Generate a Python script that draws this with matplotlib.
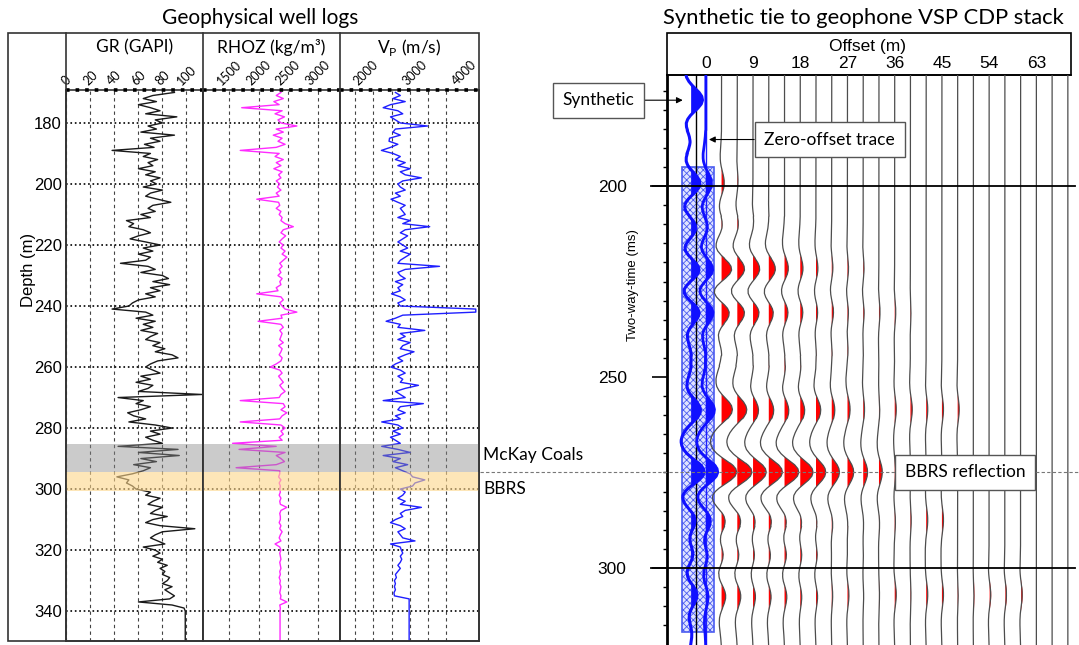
import numpy as np
import matplotlib
matplotlib.use('Agg')
import matplotlib.pyplot as plt
from matplotlib.patches import Rectangle
from matplotlib.lines import Line2D
from matplotlib.transforms import blended_transform_factory

plt.rcParams['font.family'] = ['Liberation Sans', 'DejaVu Sans']
plt.rcParams['mathtext.fontset'] = 'custom'
plt.rcParams['mathtext.rm'] = 'Lato'
plt.rcParams['hatch.linewidth'] = 0.6

W, H = 1079, 645
LABEL_FONT = 'Lato'

# ===== WELL LOGS (1 m samples, 170-350 m) =====
depth = np.arange(170, 351)

gr = [90, 72, 64, 75, 60, 70, 78, 66, 92, 74,
      80, 68, 75, 62, 90, 70, 78, 65, 73, 38,
      70, 64, 76, 68, 72, 60, 74, 66, 78, 70,
      75, 64, 80, 70, 66, 76, 87, 72, 68, 74,
      62, 70, 50, 56, 52, 64, 70, 60, 53, 66,
      78, 64, 72, 60, 70, 66, 45, 68, 74, 62,
      80, 85, 72, 86, 70, 78, 66, 74, 60, 55,
      52, 38, 66, 72, 58, 74, 64, 72, 62, 76,
      70, 66, 78, 72, 82, 74, 88, 93, 76, 70,
      66, 72, 78, 62, 70, 58, 72, 68, 60, 113,
      43, 64, 58, 70, 62, 51, 56, 66, 52, 74,
      88, 70, 78, 66, 72, 80, 43, 93, 60, 94,
      62, 75, 56, 70, 64, 55, 42, 52, 50, 55,
      58, 70, 66, 78, 72, 68, 80, 74, 70, 84,
      72, 66, 78, 107, 80, 74, 70, 76, 82, 64,
      74, 78, 72, 80, 76, 84, 78, 82, 80, 86,
      84, 80, 88, 82, 86, 90, 86, 60, 88, 98,
      99, 99, 99, 99, 99, 99, 99, 99, 99, 99, 99]

rhoz = [2380, 2300, 2420, 2260, 2350, 1715, 2400, 2280, 2440, 2330,
        2380, 2650, 2300, 2420, 2250, 2400, 2330, 2450, 2300, 1690,
        2350, 2280, 2420, 2300, 2380, 2260, 2400, 2340, 2380, 2300,
        2360, 2320, 2380, 2300, 2350, 1970, 2340, 2360, 2300, 2380,
        2350, 2400, 2380, 2450, 2590, 2420, 2380, 2460, 2400, 2350,
        2420, 2380, 2450, 2400, 2480, 2420, 2360, 2400, 2350, 2380,
        2330, 2400, 2360, 2380, 2300, 2330, 1970, 2380, 2420, 2360,
        2400, 2450, 2650, 2380, 2400, 1993, 2380, 2420, 2360, 2400,
        2380, 2360, 2420, 2340, 2400, 2380, 2350, 2400, 2380, 2300,
        2200, 2360, 2400, 2340, 2380, 2420, 2360, 2400, 2450, 2380,
        2350, 1690, 2420, 2450, 2380, 2480, 2400, 2360, 1690, 2380,
        2450, 2380, 2420, 2350, 2400, 1560, 2300, 1670, 2450, 2300,
        2380, 2440, 2300, 1620, 2360, 2360, 2340, 2380, 2350, 2370,
        2360, 2370, 2350, 2380, 2360, 2370, 2480, 2380, 2360, 2370,
        2370, 2350, 2380, 2360, 2400, 2370, 2350, 2380, 2280, 2360,
        2380, 2360, 2370, 2380, 2360, 2370, 2380, 2360, 2370, 2350,
        2370, 2360, 2380, 2370, 2360, 2380, 2370, 2480, 2360, 2370,
        2365, 2365, 2365, 2365, 2365, 2365, 2365, 2365, 2365, 2365, 2365]

vp = [2600, 2700, 2550, 2800, 2500, 2350, 2650, 2750, 2500, 2600,
      2700, 3255, 2600, 2550, 2700, 2480, 2470, 2650, 2500, 2314,
      2550, 2700, 2600, 2800, 2650, 2900, 2700, 2800, 3130, 2750,
      2650, 2700, 2800, 2600, 2700, 2510, 2650, 2800, 2700, 2750,
      2800, 2650, 2900, 2750, 3300, 2800, 2700, 2850, 2750, 2650,
      2750, 2850, 2700, 2900, 2800, 2700, 2650, 3500, 2800, 2650,
      2700, 2800, 2600, 2750, 2650, 2700, 2520, 2700, 2800, 2650,
      2700, 4240, 4240, 2750, 2600, 2410, 2700, 2650, 3200, 2700,
      2800, 2650, 2900, 2750, 2700, 2980, 2800, 2650, 2750, 2600,
      2510, 2700, 2800, 2650, 2750, 2700, 3070, 2800, 2600, 2700,
      2800, 2350, 3170, 2700, 2650, 2800, 2600, 2700, 2320, 2650,
      2750, 2550, 2700, 2500, 2600, 2700, 2320, 2650, 2900, 2350,
      2700, 2550, 2850, 2600, 2750, 2900, 2950, 3200, 3000, 2950,
      2700, 2800, 2750, 2650, 2800, 2700, 3130, 2800, 2700, 2750,
      2600, 2500, 2700, 2800, 2650, 2700, 2750, 3000, 2500, 2700,
      2720, 2750, 2700, 2730, 2700, 2650, 2700, 2650, 2600, 2620,
      2580, 2600, 2580, 2600, 2570, 2580, 2880, 2880, 2880, 2880,
      2880, 2880, 2880, 2880, 2880, 2880, 2880, 2880, 2880, 2880, 2880]

depth_ticks = [180, 200, 220, 240, 260, 280, 300, 320, 340]
gr_ticks = [0, 20, 40, 60, 80, 100]
rhoz_ticks = [1500, 2000, 2500, 3000]
vp_ticks = [2000, 3000, 4000]
vp_grid = [1776, 2143, 2531, 2898, 3265, 3633, 4000]

coal_zone = (285.3, 294.5)
bbrs_zone = (294.5, 300.7)

# ===== VSP CDP STACK =====
stack_offsets = np.arange(3, 70, 3)
stack_ms = [199.5, 211, 222, 233, 242, 249, 258.5, 275, 287.5, 296.5, 307]
amp_199 = [0.6, 0.2, 0, 0, 0, 0, 0, 0, 0, 0, 0, 0, 0, 0, 0, 0, 0, 0, 0, 0, 0, 0, 0]
amp_211 = [0.6, 0.5, 0.3, 0.1, 0, 0, 0, 0, 0, 0, 0, 0, 0, 0, 0, 0, 0, 0, 0, 0, 0, 0, 0]
amp_222 = [2.4, 1.8, 1.6, 1.5, 0.9, 0.65, 0.45, 0.3, 0.25, 0.2, 0, 0, 0, 0, 0, 0, 0, 0, 0, 0, 0, 0, 0]
amp_233 = [2.1, 1.9, 1.6, 1.3, 1.0, 0.75, 0.5, 0.5, 0.3, 0.25, 0.2, 0.2, 0.1, 0, 0, 0, 0, 0, 0, 0, 0, 0, 0]
amp_242 = [0.6, 0.6, 0.5, 0.5, 0.5, 0.4, 0.3, 0.3, 0.2, 0.1, 0, 0, 0, 0, 0, 0, 0, 0, 0, 0, 0, 0, 0]
amp_249 = [0.1, 0.3, 0.5, 0.5, 0.6, 0.5, 0.3, 0.2, 0, 0, 0, 0, 0, 0, 0, 0, 0, 0, 0, 0, 0, 0, 0]
amp_258 = [2.1, 1.9, 1.2, 1.1, 1.0, 1.0, 1.0, 0.65, 0.5, 0.25, 0.15, 0.3, 0.35, 0.3, 0.3, 0.3, 0, 0, 0, 0, 0, 0, 0]
amp_275 = [3.0, 2.9, 2.6, 2.7, 2.8, 2.5, 1.9, 1.5, 1.2, 0.85, 0.65, 0.2, 0, 0, 0, 0, 0, 0, 0, 0, 0, 0, 0]
amp_287 = [1.3, 1.2, 0.85, 1.0, 0.85, 0.65, 0.5, 0.3, 0.15, 0.15, 0.15, 0.15, 0.15, 0.3, 0.3, 0, 0, 0, 0, 0, 0, 0, 0]
amp_296 = [1.0, 0.9, 0.7, 0.8, 0.8, 0.6, 0.5, 0.1, 0.1, 0.1, 0, 0, 0, 0, 0, 0, 0, 0, 0, 0, 0, 0, 0]
amp_307 = [1.0, 0.85, 0.6, 0.6, 0.6, 0.4, 0.4, 0.2, 0.3, 0.1, 0.1, 0.3, 0.1, 0.3, 0.3, 0.1, 0.1, 0.3, 0.3, 0.3, 0, 0, 0]

zero_offset_amp = [1.2, 0.8, 1.8, 1.9, 0.6, 0.5, 1.8, 2.4, 1.4, 0.9, 0.6]

synth_ms = [177.5, 188, 199.5, 211, 222, 233, 242, 249, 258.5, 275, 287.5, 296.5, 307, 316]
synth_amp = [2.3, 0.6, 2.0, 1.6, 2.2, 2.2, 0.8, 0.7, 2.0, 2.6, 1.4, 1.2, 1.6, 0.6]

# wavelet sampled every 1 ms
wavelet_ms = np.arange(-14, 15)
wavelet = [-0.03, -0.06, -0.12, -0.18, -0.27, -0.36, -0.43, -0.44, -0.38, -0.21, 0.05, 0.37, 0.69, 0.92, 1.0,
           0.92, 0.69, 0.37, 0.05, -0.21, -0.38, -0.44, -0.43, -0.36, -0.27, -0.18, -0.12, -0.06, -0.03]

offset_labels = [0, 9, 18, 27, 36, 45, 54, 63]
time_ticks = [200, 250, 300]


def fx(px):
    return px / W


def fy(py):
    return 1 - py / H


def wiggle(times, amps, t):
    out = np.zeros_like(t)
    for tk, a in zip(times, amps):
        out += a * np.interp(t - tk, wavelet_ms, wavelet, left=0, right=0)
    return out


fig = plt.figure(figsize=(W / 100, H / 100), dpi=100)

# ================== LEFT: WELL LOGS ==================
fig.text(fx(260), fy(18), 'Geophysical well logs', ha='center', va='center',
         fontsize=15, family=LABEL_FONT)

track_px = [(66, 203), (203, 340), (340, 479)]
tracks = [
    (gr, (-0.4, 113.8), gr_ticks, '#1a1a1a', 'GR (GAPI)'),
    (rhoz, (1059, 3381), rhoz_ticks, '#ff2bff', 'RHOZ (kg/m³)'),
    (vp, (1469, 4306), vp_ticks, '#1f1fff', r'V$_{\mathregular{P}}$ (m/s)'),
]

log_axes = []
for (x0, x1), (vals, xlim, ticks, color, name) in zip(track_px, tracks):
    ax = fig.add_axes([fx(x0), fy(641), (x1 - x0) / W, (641 - 90) / H])
    ax.plot(vals, depth, color=color, lw=1.0, zorder=2)
    ax.set_xlim(*xlim)
    ax.set_ylim(349.8, 169.2)
    ax.xaxis.tick_top()
    ax.set_xticks(ticks)
    ax.set_xticklabels([str(v) for v in ticks], rotation=45, fontsize=9, family=LABEL_FONT)
    ax.tick_params(axis='x', length=0, pad=2)
    ax.set_yticks(depth_ticks)
    ax.tick_params(axis='y', length=0, pad=3, labelsize=12)
    if log_axes:
        ax.set_yticklabels([])
    ax.grid(axis='y', linestyle=':', color='black', lw=1.2)
    ax.axhspan(*coal_zone, color='#8c8c8c', alpha=0.45, lw=0, zorder=3)
    ax.axhspan(*bbrs_zone, color='#fdd68a', alpha=0.6, lw=0, zorder=3)
    ax.axhline(169.2, ls=':', lw=2.6, color='black', clip_on=False, zorder=4)
    for side in ['left', 'right', 'bottom', 'top']:
        ax.spines[side].set_color('#333333')
        ax.spines[side].set_linewidth(1.2)
    fig.text(fx((x0 + x1) / 2), fy(47), name, ha='center', va='center',
             fontsize=12.5, family=LABEL_FONT)
    log_axes.append(ax)

ax_gr, ax_rhoz, ax_vp = log_axes
for ax in (ax_gr, ax_rhoz):
    ax.grid(axis='x', linestyle=(0, (3, 3)), color='#444444', lw=0.8)
ax_vp.set_xticks(vp_grid, minor=True)
ax_vp.tick_params(axis='x', which='minor', length=0)
ax_vp.grid(axis='x', which='minor', linestyle=(0, (3, 3)), color='#444444', lw=0.8)

# frame round the log panel
fig.add_artist(Rectangle((fx(8), fy(641)), (479 - 8) / W, (641 - 33) / H,
                         transform=fig.transFigure, fill=False, ec='#333333', lw=1.2))
for xp in (66, 203, 340):
    fig.add_artist(Line2D([fx(xp), fx(xp)], [fy(33), fy(641)], color='#333333', lw=1.2))

fig.text(fx(28), fy(270), 'Depth (m)', rotation=90, ha='center', va='center', fontsize=12)
fig.text(fx(483), fy(455), 'McKay Coals', ha='left', va='center', fontsize=12.5, family=LABEL_FONT)
fig.text(fx(483), fy(489), 'BBRS', ha='left', va='center', fontsize=12.5, family=LABEL_FONT)

# ================== RIGHT: VSP STACK ==================
fig.text(fx(863), fy(18), 'Synthetic tie to geophone VSP CDP stack', ha='center', va='center',
         fontsize=15.8, family=LABEL_FONT)

ax_s = fig.add_axes([fx(667), fy(645), (1071 - 667) / W, (645 - 75) / H])
ax_s.set_xlim(-7.4, 69.6)
ax_s.set_ylim(320.2, 170.9)
t = np.linspace(170.5, 320.5, 1501)

ax_s.add_patch(Rectangle((-4.6, 195), 6.2, 121.8, facecolor='#dfe3ff', edgecolor='#4b5cf0',
                         hatch='xxxxx', lw=1.2, zorder=1))
ax_s.axvline(-1.9, color='black', lw=1, zorder=2)
ax_s.axvline(0, color='#1f1fff', lw=1, zorder=2)

# offset traces, positive lobes in red
stack_amp = np.array([amp_199, amp_211, amp_222, amp_233, amp_242, amp_249,
                      amp_258, amp_275, amp_287, amp_296, amp_307])
for i, off in enumerate(stack_offsets):
    w = wiggle(stack_ms, stack_amp[:, i], t)
    ax_s.fill_betweenx(t, off, off + w, where=w > 0, color='#ff0000', lw=0, interpolate=True, zorder=3)
    ax_s.plot(off + w, t, color='#4d4d4d', lw=0.9, zorder=4)

# zero-offset trace and synthetic in blue
w0 = wiggle(stack_ms, zero_offset_amp, t)
ax_s.fill_betweenx(t, 0, w0, where=w0 > 0, color='#1010ff', lw=0, interpolate=True, zorder=5)
ax_s.plot(w0, t, color='#1010ff', lw=2, zorder=5)

syn_base = -2.8
ws = wiggle(synth_ms, synth_amp, t)
ax_s.fill_betweenx(t, syn_base, syn_base + ws, where=ws > 0, color='#1010ff', lw=0,
                   interpolate=True, zorder=6)
ax_s.plot(syn_base + ws, t, color='#1010ff', lw=2.2, zorder=6)

# reference lines at 200 and 300 ms
for tm in (200, 300):
    ax_s.plot([-10.4, 70.4], [tm, tm], color='black', lw=1.3, clip_on=False, zorder=7)

ax_s.set_xticks([])
ax_s.set_yticks(time_ticks)
ax_s.set_yticks(np.arange(175, 320, 5), minor=True)
ax_s.tick_params(axis='y', which='major', length=11, width=1.2, pad=18, labelsize=12.5)
ax_s.tick_params(axis='y', which='minor', length=3, width=1)
ax_s.spines['left'].set_linewidth(2)
ax_s.spines['top'].set_linewidth(1.2)
ax_s.spines['right'].set_visible(False)
ax_s.spines['bottom'].set_visible(False)

# offset header box
ax_s.add_patch(Rectangle((0, 1), 1, 42 / 570, transform=ax_s.transAxes, fill=False,
                         ec='black', lw=1.2, clip_on=False))
ax_s.text(0.4975, fy(47), 'Offset (m)', transform=blended_transform_factory(ax_s.transAxes, fig.transFigure),
          ha='center', va='center', fontsize=12.5)
head = blended_transform_factory(ax_s.transData, fig.transFigure)
for v in offset_labels:
    ax_s.text(v, fy(63), str(v), transform=head, ha='center', va='center', fontsize=12.5)

fig.text(fx(633), fy(285), 'Two-way-time (ms)', rotation=90, ha='center', va='center', fontsize=9.5)

box = dict(boxstyle='square,pad=0.55', fc='white', ec='#555555', lw=1)
arrow = dict(arrowstyle='-|>', color='black', lw=0.8, mutation_scale=9, shrinkA=0, shrinkB=0)
ax_s.annotate('Synthetic', xy=(-4.4, 177.5), xytext=(-20.4, 177.5), ha='center', va='center',
              fontsize=12.5, family=LABEL_FONT, bbox=box, arrowprops=arrow,
              annotation_clip=False, zorder=9)
ax_s.annotate('Zero-offset trace', xy=(0.6, 187.8), xytext=(23.6, 187.8), ha='center', va='center',
              fontsize=12.5, family=LABEL_FONT, bbox=box, arrowprops=arrow,
              annotation_clip=False, zorder=9)
ax_s.text(49.4, 275, 'BBRS reflection', ha='center', va='center', fontsize=12.5,
          family=LABEL_FONT, bbox=box, zorder=9)

# horizon line from BBRS top to the reflection
ax_s.plot([fx(480), 1.0], [275, 275], transform=blended_transform_factory(fig.transFigure, ax_s.transData),
          ls=(0, (3, 2)), color='#777777', lw=0.8, clip_on=False, zorder=8)

fig.savefig('out.png', dpi=100)
